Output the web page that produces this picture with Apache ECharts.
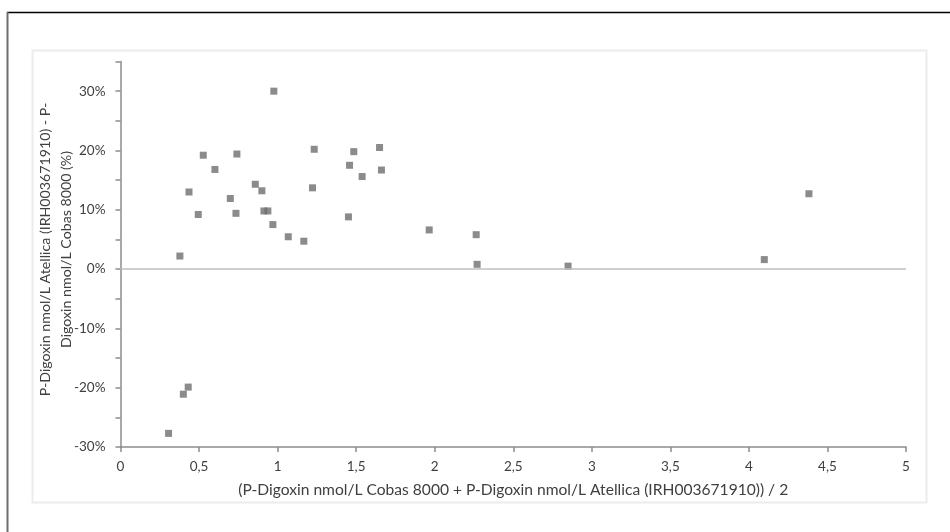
<!DOCTYPE html>
<html>
<head>
<meta charset="utf-8">
<script src="https://cdn.jsdelivr.net/npm/echarts@6/dist/echarts.min.js"></script>
<style>html,body{margin:0;padding:0;background:#fff}#c{width:950px;height:532px}</style>
</head>
<body>
<div id="c"></div>
<script>
// Mean of the two methods (nmol/L)
const meanValues = [0.976, 0.527, 0.741, 0.601, 0.858, 0.900, 0.436, 0.699, 0.495, 0.735, 0.913,
  0.938, 0.970, 1.068, 1.167, 0.378, 1.233, 1.222, 1.485, 1.458, 1.538, 1.649, 1.661, 1.451,
  0.431, 0.400, 0.306, 1.965, 2.264, 2.270, 2.849, 4.098, 4.382];
// Relative difference (%)
const diffValues = [30.0, 19.2, 19.4, 16.8, 14.3, 13.2, 13.0, 11.9, 9.2, 9.4, 9.8,
  9.8, 7.5, 5.45, 4.7, 2.2, 20.2, 13.7, 19.8, 17.5, 15.6, 20.5, 16.7, 8.8,
  -19.9, -21.1, -27.7, 6.6, 5.8, 0.8, 0.5, 1.6, 12.7];
const xTicks = [0, 0.5, 1, 1.5, 2, 2.5, 3, 3.5, 4, 4.5, 5];
const yTicks = [-30, -20, -10, 0, 10, 20, 30];
const xTitle = '(P-Digoxin nmol/L Cobas 8000 + P-Digoxin nmol/L Atellica (IRH003671910)) / 2';
const yTitle = 'P-Digoxin nmol/L Atellica (IRH003671910) - P-\nDigoxin nmol/L Cobas 8000 (%)';

const points = meanValues.map((m, i) => [m, diffValues[i]]);
const font = 'Lato, "Open Sans", sans-serif';
const chart = echarts.init(document.getElementById('c'), null, {renderer: 'canvas'});
chart.setOption({
  animation: false,
  backgroundColor: '#ffffff',
  graphic: [
    {type: 'line', shape: {x1: 7, y1: 12.5, x2: 950, y2: 12.5}, style: {stroke: '#000', lineWidth: 1.5}, silent: true},
    {type: 'line', shape: {x1: 7.5, y1: 12, x2: 7.5, y2: 532}, style: {stroke: '#6e6e6e', lineWidth: 2}, silent: true},
    {type: 'rect', shape: {x: 32.5, y: 50.5, width: 894, height: 452}, style: {fill: 'none', stroke: '#ececec', lineWidth: 2}, silent: true},
    {type: 'text', x: 56, y: 249.5, rotation: Math.PI / 2, silent: true,
      style: {text: yTitle, fill: '#404040', font: '14.2px ' + font, lineHeight: 21,
        align: 'center', verticalAlign: 'middle'}}
  ],
  grid: {left: 120.5, right: 44, top: 61.5, bottom: 85, containLabel: false},
  xAxis: {
    type: 'value', min: xTicks[0], max: xTicks[xTicks.length - 1], interval: 0.5,
    axisLine: {show: true, onZero: false, lineStyle: {color: '#8c8c8c', width: 1.5}},
    axisTick: {show: true, length: 5, lineStyle: {color: '#8c8c8c', width: 1.5}},
    splitLine: {show: false},
    axisLabel: {color: '#404040', fontSize: 13.5, fontFamily: font, margin: 13,
      formatter: v => String(v).replace('.', ',')},
    name: xTitle, nameLocation: 'middle', nameGap: 35,
    nameTextStyle: {color: '#404040', fontSize: 15.6, fontFamily: font}
  },
  yAxis: {
    type: 'value', min: -30, max: 35, interval: 5,
    axisLine: {show: true, onZero: false, lineStyle: {color: '#8c8c8c', width: 1.5}},
    axisTick: {show: true, length: 5, lineStyle: {color: '#8c8c8c', width: 1.5}},
    splitLine: {show: false},
    axisLabel: {color: '#404040', fontSize: 13.5, fontFamily: font, margin: 15,
      formatter: v => (yTicks.indexOf(v) >= 0 ? v + '%' : '')}
  },
  series: [{
    type: 'scatter',
    data: points,
    symbol: 'rect',
    symbolSize: 7,
    itemStyle: {color: '#6e6e6e'},
    markLine: {
      silent: true, symbol: 'none', label: {show: false},
      lineStyle: {color: '#bfbfbf', width: 1.5, type: 'solid'},
      data: [{yAxis: 0}]
    }
  }]
});
</script>
</body>
</html>
